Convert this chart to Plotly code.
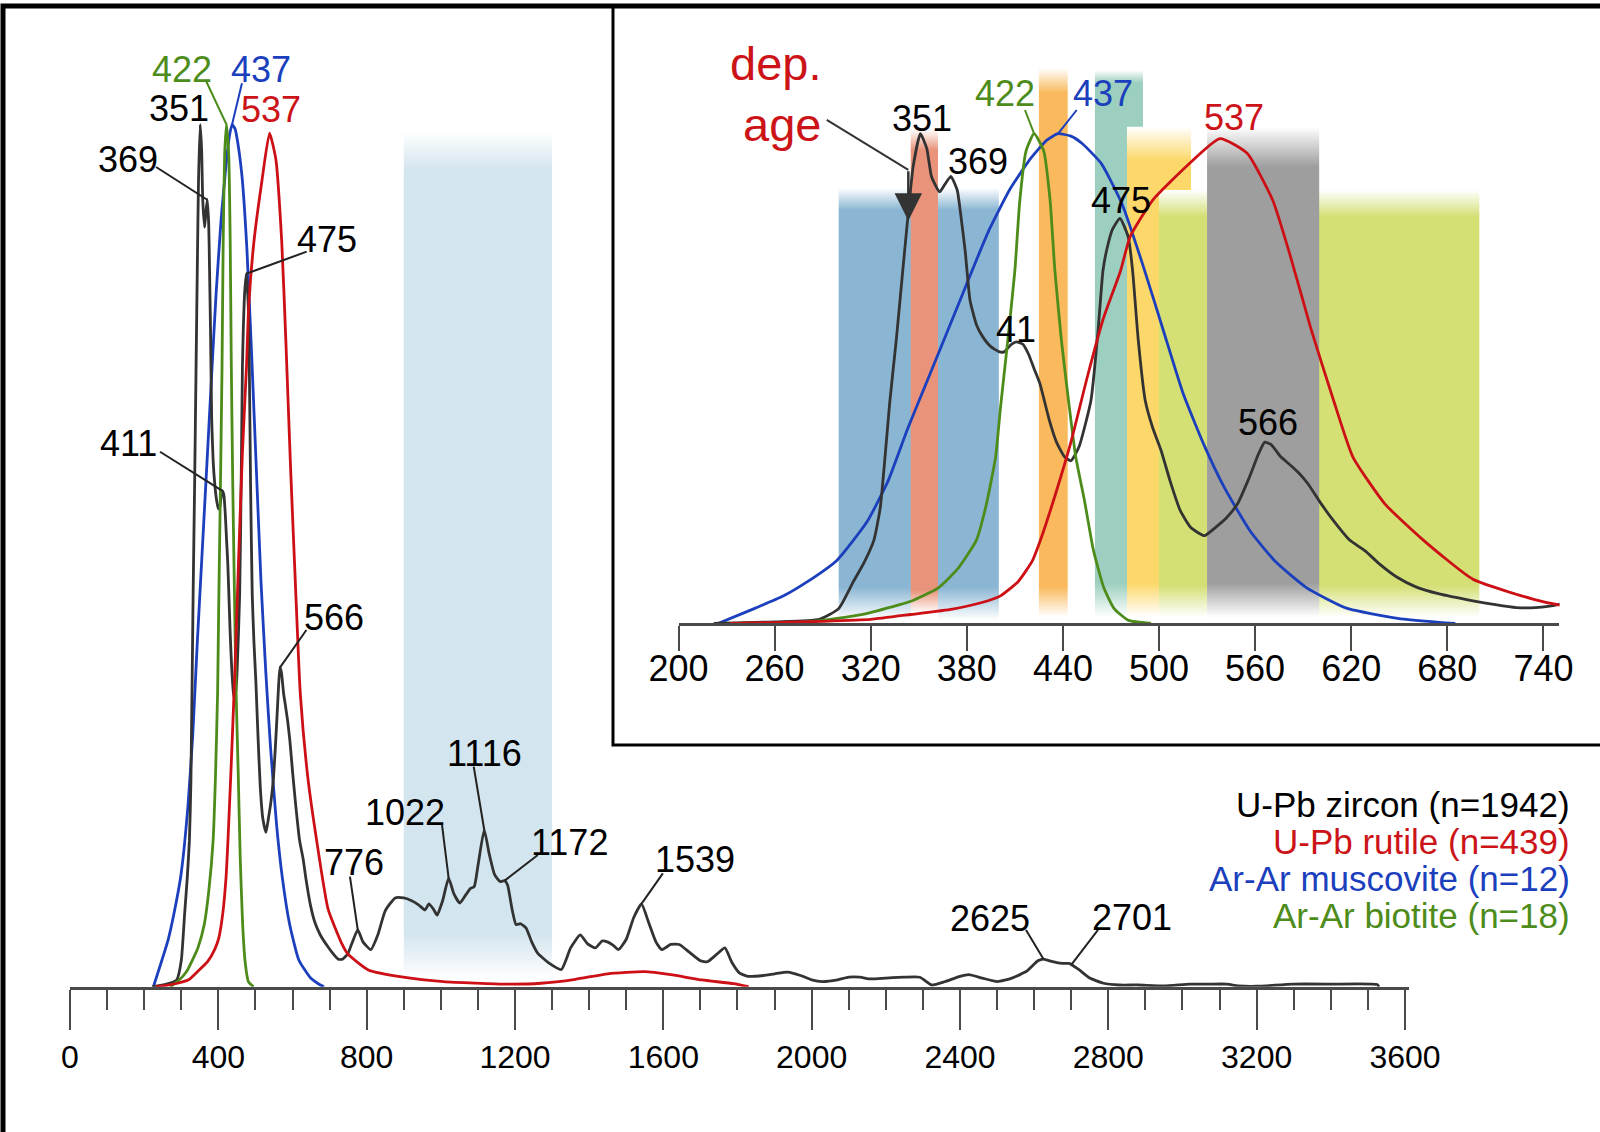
import plotly.graph_objects as go

W, H = 1600, 1132

# ---------------- data (age in Ma, relative probability density, %) ----------------
zircon_age = [222, 260, 288, 300, 309, 316, 322, 326, 332, 336, 340, 343.5, 346.5, 351, 355, 358, 363, 366, 370, 374,
              376, 379, 382, 386, 390, 395, 400, 403, 408, 411, 415, 418.5, 422, 425.6, 431.6, 436, 441, 445, 450, 457.5,
              462, 465, 467.3, 471, 475.6, 480.8, 483.5, 487, 491.4, 496, 501.3, 507, 513.3, 520, 528.4, 535, 542, 549, 556, 562,
              566, 570, 576, 581, 587, 593, 600, 608.8, 619, 628.7, 637, 648.7, 660, 675, 696, 710, 723, 735, 749, 760,
              776, 790, 811, 830, 850, 877, 900, 920, 940, 957, 968, 980, 990, 1005, 1021, 1035, 1051, 1065, 1080, 1090,
              1100, 1117, 1130, 1145, 1160, 1172, 1180, 1192, 1203, 1215, 1230, 1245, 1261, 1290, 1325, 1350, 1376, 1395, 1417, 1435,
              1449, 1465, 1479, 1500, 1520, 1541, 1560, 1580, 1596, 1620, 1643, 1670, 1700, 1719, 1745, 1766, 1785, 1805, 1828, 1870,
              1900, 1936, 1970, 2000, 2029, 2070, 2100, 2130, 2160, 2200, 2250, 2292, 2323, 2360, 2400, 2424, 2460, 2501, 2540, 2580,
              2610, 2625, 2650, 2675, 2694, 2720, 2750, 2787, 2830, 2880, 2950, 3020, 3070, 3120, 3150, 3200, 3298, 3400, 3525, 3530]
zircon_density = [0, 0.3, 0.8, 3, 8.4, 12.5, 17, 23.7, 45.5, 58, 72, 84, 93.3, 100, 97, 91.2, 88.1, 89.5, 91.3, 88.5,
                  84, 76, 66, 61, 58.5, 56.5, 55.5, 55.4, 57, 57.5, 57, 55, 52, 49, 41.4, 37, 34, 33.2, 36, 45.5,
                  60, 72, 76.2, 80.5, 82.7, 78.9, 72.1, 58, 45.5, 40, 35.3, 29, 23, 19.5, 17.9, 19.5, 21.5, 24.4, 29.5, 34.5,
                  37, 36.5, 34, 32.6, 30.8, 28.5, 25, 21, 17, 14.8, 12.3, 9.4, 7.5, 6, 4.6, 3.8, 3.2, 3.2, 3.8, 5,
                  6.6, 5.2, 4.3, 6, 8.8, 10.3, 10.3, 10, 9.5, 8.9, 9.6, 9, 8.3, 10, 12.6, 10.8, 9.7, 10.5, 11.4, 11.6,
                  14, 18.2, 15.5, 13, 12.2, 12.3, 11.8, 9, 7.2, 7.3, 6.8, 5.2, 3.9, 2.8, 2.0, 4.5, 6, 5, 4.5, 5.3,
                  5.2, 4.8, 4.3, 5.5, 8, 9.6, 7.5, 5.2, 4.3, 4.9, 4.9, 4, 3, 2.9, 3.8, 4.5, 2.8, 1.6, 1.2, 1.3,
                  1.5, 1.7, 1.3, 0.8, 0.6, 0.8, 1.1, 1.1, 0.9, 1.0, 1.1, 1.1, 0.2, 0.6, 1.2, 1.4, 1.0, 0.6, 1.0, 1.8,
                  3.0, 3.2, 2.9, 2.7, 2.7, 2.0, 1.0, 0.4, 0.2, 0.2, 0.1, 0.3, 0.3, 0.3, 0.1, 0.05, 0.3, 0.3, 0.25, 0]

rutile_age = [232, 260, 290, 320, 345, 371, 390, 401, 412, 421, 426, 435, 445, 455, 465, 476, 482, 496, 517, 538,
              555, 571, 582, 595, 609, 621, 641, 665, 696, 734, 749, 806, 899, 1007, 1178, 1270, 1363, 1450, 1549, 1620,
              1704, 1790, 1830]
rutile_density = [0, 0.15, 0.4, 0.8, 1.8, 2.9, 4.3, 5.6, 8.5, 12.8, 17, 26, 37, 50, 62, 72, 79, 86.4, 93.3, 99,
                  96, 86.4, 75, 60, 45.5, 34, 24.4, 17, 9, 4.9, 3.8, 1.9, 1.1, 0.6, 0.3, 0.4, 0.86, 1.5, 1.75, 1.4,
                  0.78, 0.35, 0]

muscovite_age = [225, 248, 265, 280, 299, 318, 331, 343, 356, 369, 382, 394, 407, 420, 430, 437, 445, 452, 464, 477,
                 490, 503, 515, 528, 541, 557, 573, 592, 617, 649, 675, 685]
muscovite_density = [0, 3.1, 5.5, 8.4, 12.9, 20.9, 29.2, 39.7, 50.1, 60.5, 71, 80.4, 88.7, 95, 98.7, 100, 99.5, 98, 93.9, 85.6,
                     73.1, 59.5, 47, 36.5, 27.6, 18.8, 12.5, 7.3, 3.1, 1, 0.2, 0]

biotite_age = [270, 290, 315, 338, 345, 362, 374, 386, 392, 398, 401, 405, 410, 413, 417, 422, 428, 432, 435, 439,
               443.5, 448, 453.5, 459, 465.5, 472, 481, 495]
biotite_density = [0, 0.6, 1.8, 3.8, 4.5, 7.2, 11, 17, 24, 34, 44, 56, 72, 86, 96.5, 100, 96.5, 86.4, 72, 58,
                   45.5, 34, 25, 15, 7.3, 3, 0.6, 0]

main_tick_values = list(range(0, 3601, 400))
inset_tick_values = list(range(200, 741, 60))

legend_labels = ["U-Pb zircon (n=1942)", "U-Pb rutile (n=439)", "Ar-Ar muscovite (n=12)", "Ar-Ar biotite (n=18)"]

main_band_ages = (900, 1300)
inset_band_names = ["blue", "salmon", "orange", "teal", "yellow", "lime", "gray"]
inset_band_ages = [(300, 400), (345, 362), (425, 443), (460, 490), (480, 520), (500, 700), (530, 600)]

# ---------------- styles ----------------
C_ZIR, C_RUT, C_MUS, C_BIO = "#333333", "#cc1016", "#1b3fbd", "#4d8c1a"
T_ZIR, T_RUT, T_MUS, T_BIO = "#000000", "#cc1418", "#1b3fbd", "#4d8c1a"
FONT = "Liberation Sans, Arial, Helvetica, sans-serif"
AXC = "#4a4a4a"
LBL = 36   # peak label font size
LW = 2.8   # curve width

band_style = {  # top_white, top_solid, bottom_solid, bottom_white (in y units of inset), colour
    "blue": (88.9, 84.4, 7.4, 0.7, "rgb(138,182,211)"),
    "salmon": (100.8, 96.7, 6.8, 2.1, "rgb(233,148,122)"),
    "orange": (113.4, 108.3, 7.5, 1.3, "rgb(249,185,92)"),
    "teal": (113.0, 110.4, 8.2, 1.3, "rgb(156,207,191)"),
    "yellow": (101.4, 94.6, 8.2, 1.3, "rgb(252,216,106)"),
    "lime": (88.5, 83.0, 7.8, 1.3, "rgb(212,223,116)"),
    "gray": (101.4, 93.2, 8.2, 1.3, "rgb(158,158,158)"),
}

# geometry (pixels)
MX0, MPX = 70.0, 0.37083       # main: x of age 0, px per Ma
MBASE, MPY = 986.7, 8.622      # main: baseline y, px per density unit
IX0, IPX = 678.5, 1.6017       # inset: x of 200 Ma, px per Ma
IBASE, IPY = 623.3, 4.896
TOP = 10.0
M_XMAX = 3612
I_XMIN, I_XMAX = 200, 750

fig = go.Figure()


def band(x0, x1, style, xa, ya):
    tw, ts, bs, bw, col = style
    cs = [[0, "rgb(255,255,255)"], [bw / tw, "rgb(255,255,255)"], [bs / tw, col],
          [ts / tw, col], [1, "rgb(255,255,255)"]]
    fig.add_trace(go.Scatter(
        x=[x0, x1, x1, x0, x0], y=[0, 0, tw, tw, 0], mode="lines", line=dict(width=0),
        fill="toself", fillgradient=dict(type="vertical", colorscale=cs, start=0, stop=tw),
        hoverinfo="skip", showlegend=False, xaxis=xa, yaxis=ya))


band(main_band_ages[0], main_band_ages[1], (99.2, 94.7, 6.2, 0.8, "rgb(211,229,238)"), "x", "y")
for name, (a0, a1) in zip(inset_band_names, inset_band_ages):
    band(a0, a1, band_style[name], "x2", "y2")

series = [(muscovite_age, muscovite_density, C_MUS), (zircon_age, zircon_density, C_ZIR),
          (biotite_age, biotite_density, C_BIO), (rutile_age, rutile_density, C_RUT)]
for ages, dens, col in series:
    fig.add_trace(go.Scatter(x=ages, y=dens, mode="lines",
                             line=dict(color=col, width=LW, shape="spline", smoothing=0.5),
                             hoverinfo="skip", showlegend=False, xaxis="x", yaxis="y"))
    fig.add_trace(go.Scatter(x=ages, y=dens, mode="lines",
                             line=dict(color=col, width=LW, shape="spline", smoothing=0.5),
                             hoverinfo="skip", showlegend=False, xaxis="x2", yaxis="y2"))

annotations = []
shapes = []


def label(text, age, dens, dx, dy, color, xr="x", yr="y", size=LBL, leader=None, lcolor=None):
    annotations.append(dict(text=text, x=age, y=dens, xref=xr, yref=yr, showarrow=False,
                            xshift=dx, yshift=dy, xanchor="center", yanchor="middle",
                            font=dict(family=FONT, size=size, color=color)))
    if leader is not None:
        shapes.append(dict(type="line", xref=xr, yref=yr, xsizemode="pixel", ysizemode="pixel",
                           xanchor=age, yanchor=dens, x0=0, y0=0, x1=leader[0], y1=leader[1],
                           line=dict(color=lcolor or color, width=2)))


# main chart labels
label("422", 422, 100, -44.5, 55, T_BIO, leader=(-20.9, 44.5), lcolor=C_BIO)
label("437", 437, 100, 28.9, 55, T_MUS, leader=(9.9, 41.2), lcolor=C_MUS)
label("351", 351, 100, -21.2, 15.5, T_ZIR)
label("537", 537, 99, 1.9, 24.1, T_RUT)
label("369", 369, 91.3, -79.3, 40.5, T_ZIR, leader=(-50.8, 32.5), lcolor="#222")
label("475", 475.6, 82.7, 80.9, 33.7, T_ZIR, leader=(60.3, 22), lcolor="#222")
label("411", 411, 57.5, -94, 47.4, T_ZIR, leader=(-62.4, 39.2), lcolor="#222")
label("566", 566, 37, 54.1, 49.7, T_ZIR, leader=(26.5, 37.7), lcolor="#222")
label("776", 776, 6.6, -4, 66.8, T_ZIR, leader=(-7.8, 53.1), lcolor="#222")
label("1022", 1021, 12.6, -43.3, 65.1, T_ZIR, leader=(-6.6, 53.1), lcolor="#222")
label("1116", 1117, 18.2, 0.2, 75.8, T_ZIR, leader=(-10.5, 63.1), lcolor="#222")
label("1172", 1172, 12.3, 64.8, 38.1, T_ZIR, leader=(33.2, 25.6), lcolor="#222")
label("1539", 1541, 9.6, 53.3, 44.9, T_ZIR, leader=(21.4, 30.6), lcolor="#222")
label("2625", 2625, 3.2, -53.4, 41.1, T_ZIR, leader=(-17.4, 29.1), lcolor="#222")
label("2701", 2701, 2.6, 60.4, 46.3, T_ZIR, leader=(26.4, 34.3), lcolor="#222")

# inset labels
label("351", 351, 100, 1.3, 14.7, T_ZIR, "x2", "y2")
label("369", 370, 91.3, 27.2, 14.6, T_ZIR, "x2", "y2")
label("422", 422, 100, -29.1, 39.7, T_BIO, "x2", "y2", leader=(-9.1, 23.7), lcolor=C_BIO)
label("437", 437, 100, 44.4, 39.7, T_MUS, "x2", "y2", leader=(18.6, 23.7), lcolor=C_MUS)
label("475", 475.6, 82.7, 1.4, 17.4, T_ZIR, "x2", "y2")
label("41", 411, 57.5, -0.5, 11.8, T_ZIR, "x2", "y2")
label("566", 566, 37, 3.3, 19.7, T_ZIR, "x2", "y2")
label("537", 538, 99, 14.1, 20.6, T_RUT, "x2", "y2")

# depositional age marker
DEP_AGE, DEP_Y = 343.5, 82.2
annotations.append(dict(text="dep.<br>age", x=DEP_AGE, y=DEP_Y, xref="x2", yref="y2", showarrow=False,
                        xanchor="right", yanchor="middle", align="right", xshift=-85.3, yshift=127,
                        font=dict(family=FONT, size=47, color=T_RUT)))
shapes.append(dict(type="line", xref="x2", yref="y2", xsizemode="pixel", ysizemode="pixel",
                   xanchor=DEP_AGE, yanchor=DEP_Y, x0=-81.6, y0=101, x1=0, y1=51,
                   line=dict(color="#333", width=2)))
annotations.append(dict(text="", x=DEP_AGE, y=DEP_Y, xref="x2", yref="y2", showarrow=True,
                        ax=0, ay=-51, axref="pixel", ayref="pixel", arrowhead=2, arrowsize=2.2,
                        arrowwidth=2.5, arrowcolor="#333", standoff=0))

# legend text
for i, (txt, col) in enumerate(zip(legend_labels, [T_ZIR, T_RUT, T_MUS, T_BIO])):
    yc = 804 + 37 * i
    annotations.append(dict(text=txt, x=1572 / W, y=1 - yc / H, xref="paper", yref="paper",
                            xanchor="right", yanchor="middle", showarrow=False,
                            font=dict(family=FONT, size=35, color=col)))

# frames
shapes.append(dict(type="rect", xref="paper", yref="paper", x0=3 / W, x1=1 + 10 / W,
                   y0=-10 / H, y1=1 - 6 / H, line=dict(color="#000", width=5), layer="above"))
shapes.append(dict(type="rect", xref="paper", yref="paper", x0=613 / W, x1=1 + 10 / W,
                   y0=1 - 745 / H, y1=1 - 6 / H, line=dict(color="#000", width=3), layer="above"))

axis_common = dict(showgrid=False, zeroline=False, showline=True, linecolor=AXC, linewidth=3,
                   ticks="outside", tickcolor=AXC, tickwidth=2, automargin=False, fixedrange=True)

fig.update_layout(
    width=W, height=H, margin=dict(l=0, r=0, t=0, b=0, pad=0, autoexpand=False),
    paper_bgcolor="white", plot_bgcolor="rgba(0,0,0,0)", showlegend=False,
    xaxis=dict(domain=[MX0 / W, (MX0 + M_XMAX * MPX) / W], range=[0, M_XMAX], anchor="y",
               tickvals=main_tick_values, ticklen=40,
               tickfont=dict(family=FONT, size=32, color="#000"),
               minor=dict(ticks="outside", ticklen=20, tickwidth=2, tickcolor=AXC, dtick=100, tick0=0),
               **axis_common),
    yaxis=dict(domain=[1 - MBASE / H, 1 - TOP / H], range=[0, (MBASE - TOP) / MPY], visible=False,
               anchor="x", fixedrange=True, automargin=False),
    xaxis2=dict(domain=[IX0 / W, (IX0 + (I_XMAX - I_XMIN) * IPX) / W], range=[I_XMIN, I_XMAX], anchor="y2",
                tickvals=inset_tick_values, ticklen=25, ticklabelstandoff=-14,
                tickfont=dict(family=FONT, size=36, color="#000"), **axis_common),
    yaxis2=dict(domain=[1 - IBASE / H, 1 - TOP / H], range=[0, (IBASE - TOP) / IPY], visible=False,
                anchor="x2", fixedrange=True, automargin=False),
    annotations=annotations, shapes=shapes,
)

fig.write_html("out.html")
